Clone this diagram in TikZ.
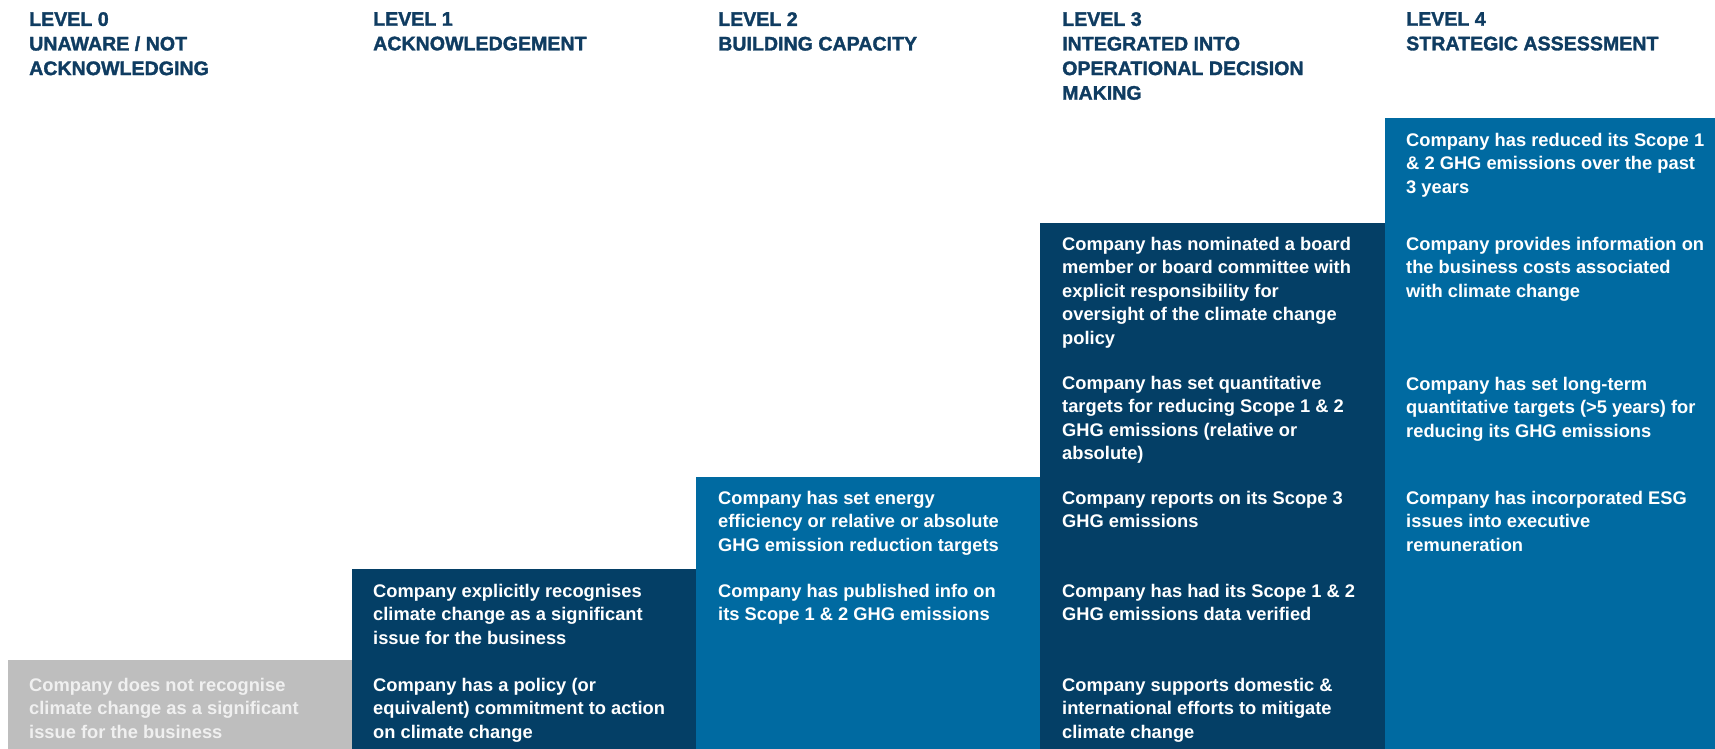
\documentclass[tikz,border=0pt]{standalone}
\usepackage{fontspec}
\setmainfont{Liberation Sans}
% heavier face for the level headings
\newfontfamily\headface{Liberation Sans}[BoldFeatures={FakeBold=1.6}]
\definecolor{navy}{HTML}{043F66}
\definecolor{ocean}{HTML}{006AA1}
\definecolor{stone}{HTML}{BEBEBE}
\definecolor{headink}{HTML}{0F3C61}
\definecolor{paleink}{HTML}{F0F0F0}
% every text block opens with a fixed-height strut, so its north edge
% lies exactly 14pt above the baseline of its first line
\begin{document}
\begin{tikzpicture}[x=1pt,y=-1pt,
  stepbox/.style={anchor=north west, inner sep=0pt, outer sep=0pt, draw=none},
  item/.style={anchor=north west, inner sep=0pt, align=left, text=white,
    font=\bfseries\fontsize{18.3}{23.4}\selectfont,
    execute at begin node={\rule{0pt}{14pt}}},
  head/.style={anchor=north west, inner sep=0pt, align=left, text=headink,
    font=\headface\bfseries\fontsize{19.6}{24.6}\selectfont,
    execute at begin node={\rule{0pt}{14pt}}}]
\useasboundingbox (0,0) rectangle (1715,749);

% staircase of levels
\node[stepbox, fill=stone, minimum width=344pt, minimum height=89pt]  (b0) at (8,660) {};
\node[stepbox, fill=navy,  minimum width=344pt, minimum height=180pt] (b1) at (352,569) {};
\node[stepbox, fill=ocean, minimum width=344pt, minimum height=272pt] (b2) at (696,477) {};
\node[stepbox, fill=navy,  minimum width=345pt, minimum height=526pt] (b3) at (1040,223) {};
\node[stepbox, fill=ocean, minimum width=330pt, minimum height=631pt] (b4) at (1385,118) {};

% level headings (first baseline at y = 26)
\node[head] (h0) at (29,12)   {LEVEL 0\\UNAWARE / NOT\\ACKNOWLEDGING};
\node[head] (h1) at (373,12)  {LEVEL 1\\ACKNOWLEDGEMENT};
\node[head] (h2) at (718,12)  {LEVEL 2\\BUILDING CAPACITY};
\node[head] (h3) at (1062,12) {LEVEL 3\\INTEGRATED INTO\\OPERATIONAL DECISION\\MAKING};
\node[head] (h4) at (1406,12) {LEVEL 4\\STRATEGIC ASSESSMENT};

% level 0
\node[item, text=paleink] (t0a) at (29,678) {Company does not recognise\\climate change as a significant\\issue for the business};

% level 1
\node[item] (t1a) at (373,584) {Company explicitly recognises\\climate change as a significant\\issue for the business};
\node[item] (t1b) at (373,678) {Company has a policy (or\\equivalent) commitment to action\\on climate change};

% level 2
\node[item] (t2a) at (718,491) {Company has set energy\\efficiency or relative or absolute\\GHG emission reduction targets};
\node[item] (t2b) at (718,584) {Company has published info on\\its Scope 1 \& 2 GHG emissions};

% level 3
\node[item] (t3a) at (1062,237) {Company has nominated a board\\member or board committee with\\explicit responsibility for\\oversight of the climate change\\policy};
\node[item] (t3b) at (1062,376) {Company has set quantitative\\targets for reducing Scope 1 \& 2\\GHG emissions (relative or\\absolute)};
\node[item] (t3c) at (1062,491) {Company reports on its Scope 3\\GHG emissions};
\node[item] (t3d) at (1062,584) {Company has had its Scope 1 \& 2\\GHG emissions data verified};
\node[item] (t3e) at (1062,678) {Company supports domestic \&\\international efforts to mitigate\\climate change};

% level 4
\node[item] (t4a) at (1406,133) {Company has reduced its Scope 1\\\& 2 GHG emissions over the past\\3 years};
\node[item] (t4b) at (1406,237) {Company provides information on\\the business costs associated\\with climate change};
\node[item] (t4c) at (1406,377) {Company has set long-term\\quantitative targets (>5 years) for\\reducing its GHG emissions};
\node[item] (t4d) at (1406,491) {Company has incorporated ESG\\issues into executive\\remuneration};
\end{tikzpicture}
\end{document}
